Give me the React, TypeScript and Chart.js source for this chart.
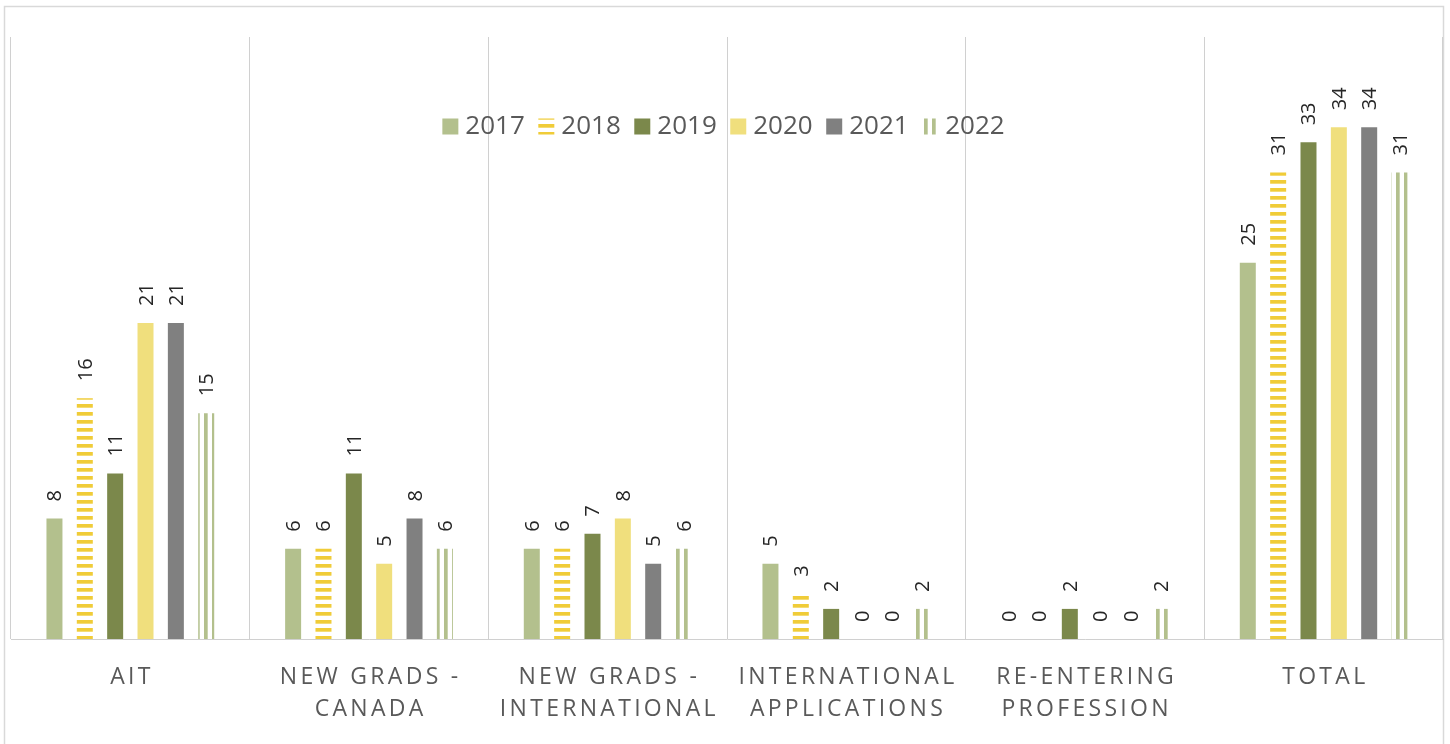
import React, { useEffect, useRef } from 'react';
import { Chart, registerables } from 'chart.js';
Chart.register(...registerables);

const categories: string[][] = [
  ['AIT'],
  ['NEW GRADS -', 'CANADA'],
  ['NEW GRADS -', 'INTERNATIONAL'],
  ['INTERNATIONAL', 'APPLICATIONS'],
  ['RE-ENTERING', 'PROFESSION'],
  ['TOTAL'],
];
const years = ['2017', '2018', '2019', '2020', '2021', '2022'];
const values2017 = [8, 6, 6, 5, 0, 25];
const values2018 = [16, 6, 6, 3, 0, 31];
const values2019 = [11, 11, 7, 2, 2, 33];
const values2020 = [21, 5, 8, 0, 0, 34];
const values2021 = [21, 8, 5, 0, 0, 34];
const values2022 = [15, 6, 6, 2, 2, 31];
const yMax = 40;

const FONT = "'Open Sans', sans-serif";
const C2017 = '#B3C08D';
const C2018 = '#F0CC38';
const C2019 = '#7B884B';
const C2020 = '#F0DF7D';
const C2021 = '#808080';
const C2022 = '#B3C08D';

function makePattern(ctx: CanvasRenderingContext2D, color: string, horizontal: boolean): CanvasPattern {
  const c = document.createElement('canvas');
  c.width = 8;
  c.height = 8;
  const g = c.getContext('2d')!;
  g.fillStyle = color;
  if (horizontal) g.fillRect(0, 4, 8, 3.7);
  else g.fillRect(4, 0, 3.7, 8);
  return ctx.createPattern(c, 'repeat')!;
}

export default function App() {
  const ref = useRef<HTMLCanvasElement>(null);
  useEffect(() => {
    document.body.style.margin = '0';
    const canvas = ref.current!;
    const ctx = canvas.getContext('2d')!;
    const p2018 = makePattern(ctx, C2018, true);
    const p2022 = makePattern(ctx, C2022, false);
    const fills: (string | CanvasPattern)[] = [C2017, p2018, C2019, C2020, C2021, p2022];
    const series = [values2017, values2018, values2019, values2020, values2021, values2022];

    const framePlugin = {
      id: 'frame',
      beforeDraw(chart: any) {
        const c = chart.ctx;
        c.save();
        c.fillStyle = '#ffffff';
        c.fillRect(0, 0, chart.width, chart.height);
        c.strokeStyle = '#D9D9D9';
        c.lineWidth = 1.5;
        c.strokeRect(4.5, 6.5, 1439, 800);
        c.restore();
      },
    };

    const labelsPlugin = {
      id: 'valueLabels',
      afterDatasetsDraw(chart: any) {
        const c = chart.ctx;
        c.save();
        c.font = `20px ${FONT}`;
        c.fillStyle = '#262626';
        c.textAlign = 'left';
        c.textBaseline = 'alphabetic';
        chart.data.datasets.forEach((ds: any, i: number) => {
          const meta = chart.getDatasetMeta(i);
          meta.data.forEach((bar: any, j: number) => {
            const v = ds.data[j];
            c.save();
            c.translate(bar.x + 7, bar.y - 17);
            c.rotate(-Math.PI / 2);
            c.fillText(String(v), 0, 0);
            c.restore();
          });
        });
        c.restore();
      },
    };

    const axisLabelsPlugin = {
      id: 'axisLabels',
      afterDraw(chart: any) {
        const c = chart.ctx;
        const xs = chart.scales.x;
        const bottom = chart.chartArea.bottom;
        c.save();
        c.font = `23px ${FONT}`;
        c.fillStyle = '#595959';
        c.textAlign = 'left';
        c.textBaseline = 'alphabetic';
        const ls = 3.3;
        (c as any).letterSpacing = `${ls}px`;
        categories.forEach((lines, j) => {
          const cx = xs.getPixelForValue(j);
          lines.forEach((line, k) => {
            const w = c.measureText(line).width - ls;
            c.fillText(line, cx - w / 2, bottom + 44.5 + k * 32);
          });
        });
        (c as any).letterSpacing = '0px';

        // legend
        c.font = `26px ${FONT}`;
        const box = 16;
        const gapBoxText = 7;
        const gapItems = 13.5;
        const widths = years.map((y) => c.measureText(y).width);
        let total = 0;
        widths.forEach((w, i) => {
          total += box + gapBoxText + w + (i < years.length - 1 ? gapItems : 0);
        });
        const center = (4 + 1443) / 2;
        let x = center - total / 2;
        const cy = 126.5;
        c.textBaseline = 'middle';
        years.forEach((y, i) => {
          c.fillStyle = fills[i] as any;
          c.fillRect(x, cy - 8, box, 16);
          x += box + gapBoxText;
          c.fillStyle = '#595959';
          c.fillText(y, x, cy);
          x += widths[i] + gapItems;
        });
        c.restore();
      },
    };

    const chart = new Chart(canvas, {
      type: 'bar',
      data: {
        labels: categories,
        datasets: years.map((y, i) => ({
          label: y,
          data: series[i],
          backgroundColor: fills[i] as any,
          borderWidth: 0,
          categoryPercentage: 0.763,
          barPercentage: 0.527,
        })),
      },
      options: {
        animation: false,
        responsive: false,
        devicePixelRatio: 1,
        layout: { padding: { left: 11, right: 7, top: 37, bottom: 105 } },
        plugins: {
          legend: { display: false },
          tooltip: { enabled: false },
          title: { display: false },
        },
        scales: {
          x: {
            display: true,
            offset: true,
            grid: { offset: true, color: '#D0D0D0', lineWidth: 1, drawTicks: false },
            border: { display: true, color: '#D0D0D0', width: 1 },
            ticks: { display: false },
          },
          y: {
            display: false,
            min: 0,
            max: yMax,
          },
        },
      },
      plugins: [framePlugin, labelsPlugin, axisLabelsPlugin],
    });
    return () => chart.destroy();
  }, []);
  return <canvas ref={ref} width={1450} height={744} style={{ display: 'block' }} />;
}
